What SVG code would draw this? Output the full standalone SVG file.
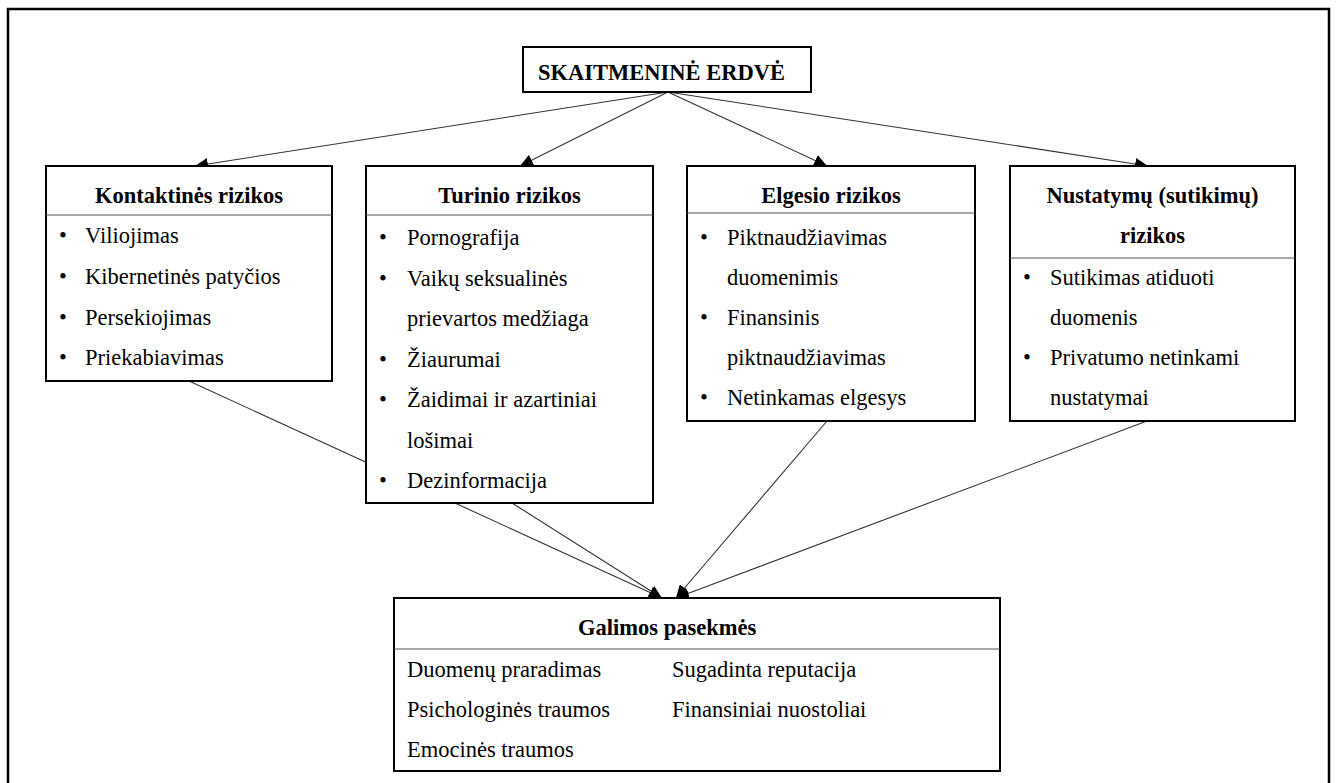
<svg xmlns="http://www.w3.org/2000/svg" width="1336" height="783" viewBox="0 0 1336 783">
<style>
.frame{fill:none;stroke:#000;stroke-width:2.5}
.box{fill:#fff;stroke:#000;stroke-width:2}
.div{stroke:#555;stroke-width:1.2}
.conn{stroke:#333;stroke-width:1.1;fill:none}
text{font-family:'Liberation Serif',Tinos,'Times New Roman',Times,'Noto Serif','DejaVu Serif',serif;font-size:22.5px;fill:#000}
.b{font-weight:bold}
.m{text-anchor:middle}
</style>
<defs>
<marker id="ah" markerUnits="userSpaceOnUse" markerWidth="14" markerHeight="12" refX="13" refY="6" orient="auto">
<path d="M0,0 L13,6 L0,12 Z" fill="#000"/>
</marker>
</defs>
<rect class="frame" x="8" y="9" width="1321" height="800"/>
<g id="connectors">
<line class="conn" x1="668" y1="92" x2="195" y2="166" marker-end="url(#ah)"/>
<line class="conn" x1="668" y1="92" x2="520" y2="166" marker-end="url(#ah)"/>
<line class="conn" x1="668" y1="92" x2="827" y2="166" marker-end="url(#ah)"/>
<line class="conn" x1="668" y1="92" x2="1148" y2="166" marker-end="url(#ah)"/>
<line class="conn" x1="189" y1="381" x2="662" y2="598" marker-end="url(#ah)"/>
<line class="conn" x1="512" y1="503" x2="662" y2="598" marker-end="url(#ah)"/>
<line class="conn" x1="827" y1="421" x2="676" y2="598" marker-end="url(#ah)"/>
<line class="conn" x1="1147" y1="421" x2="676" y2="598" marker-end="url(#ah)"/>
</g>
<g id="root" font-family="Liberation Serif, serif">
<rect class="box" x="523" y="47" width="288" height="45"/>
<text class="b" x="538" y="80">SKAITMENINĖ ERDVĖ</text>
</g>
<g id="kontaktines">
<rect class="box" x="46" y="166" width="286" height="215"/>
<line class="div" x1="46" y1="215" x2="332" y2="215"/>
<text class="b m" x="189" y="203">Kontaktinės rizikos</text>
<text x="59" y="243">•</text><text x="85" y="243">Viliojimas</text>
<text x="59" y="284">•</text><text x="85" y="284">Kibernetinės patyčios</text>
<text x="59" y="325">•</text><text x="85" y="325">Persekiojimas</text>
<text x="59" y="365">•</text><text x="85" y="365">Priekabiavimas</text>
</g>
<g id="turinio">
<rect class="box" x="366" y="166" width="287" height="337"/>
<line class="div" x1="366" y1="215" x2="653" y2="215"/>
<text class="b m" x="509.5" y="203">Turinio rizikos</text>
<text x="379" y="245">•</text><text x="407" y="245">Pornografija</text>
<text x="379" y="285.5">•</text><text x="407" y="285.5">Vaikų seksualinės</text>
<text x="407" y="326">prievartos medžiaga</text>
<text x="379" y="366.5">•</text><text x="407" y="366.5">Žiaurumai</text>
<text x="379" y="407">•</text><text x="407" y="407">Žaidimai ir azartiniai</text>
<text x="407" y="447.5">lošimai</text>
<text x="379" y="488">•</text><text x="407" y="488">Dezinformacija</text>
</g>
<g id="elgesio">
<rect class="box" x="687" y="166" width="288" height="255"/>
<line class="div" x1="687" y1="213" x2="975" y2="213"/>
<text class="b m" x="831" y="203">Elgesio rizikos</text>
<text x="700" y="245">•</text><text x="727" y="245">Piktnaudžiavimas</text>
<text x="727" y="285">duomenimis</text>
<text x="700" y="325">•</text><text x="727" y="325">Finansinis</text>
<text x="727" y="365">piktnaudžiavimas</text>
<text x="700" y="405">•</text><text x="727" y="405">Netinkamas elgesys</text>
</g>
<g id="nustatymu">
<rect class="box" x="1010" y="166" width="285" height="255"/>
<line class="div" x1="1010" y1="258" x2="1295" y2="258"/>
<text class="b m" x="1152.5" y="203">Nustatymų (sutikimų)</text>
<text class="b m" x="1152.5" y="243">rizikos</text>
<text x="1023" y="285">•</text><text x="1050" y="285">Sutikimas atiduoti</text>
<text x="1050" y="325">duomenis</text>
<text x="1023" y="365">•</text><text x="1050" y="365">Privatumo netinkami</text>
<text x="1050" y="405">nustatymai</text>
</g>
<g id="pasekmes">
<rect class="box" x="394" y="598" width="606" height="173"/>
<line class="div" x1="394" y1="649" x2="1000" y2="649"/>
<text class="b" x="578" y="635">Galimos pasekmės</text>
<text x="407" y="677">Duomenų praradimas</text>
<text x="407" y="717">Psichologinės traumos</text>
<text x="407" y="757">Emocinės traumos</text>
<text x="672" y="677">Sugadinta reputacija</text>
<text x="672" y="717">Finansiniai nuostoliai</text>
</g>
</svg>
